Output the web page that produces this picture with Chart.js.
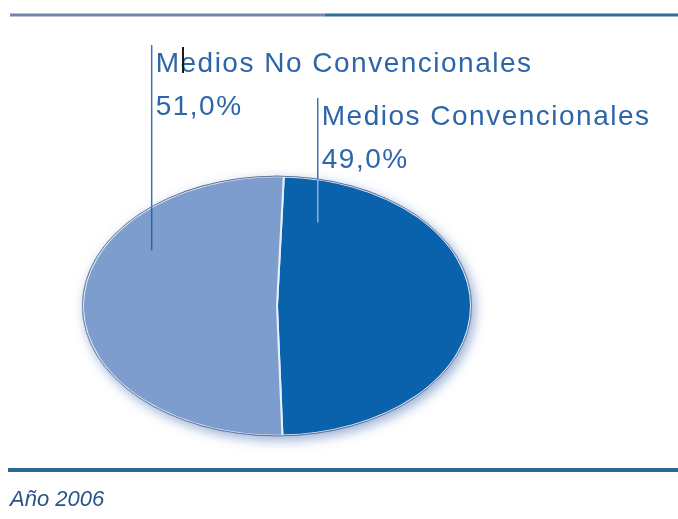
<!DOCTYPE html>
<html>
<head>
<meta charset="utf-8">
<title>Inversión publicitaria 2006</title>
<script src="https://cdn.jsdelivr.net/npm/chart.js@4/dist/chart.umd.min.js"></script>
<style>
  html, body { margin: 0; padding: 0; background: #fff; }
  canvas { display: block; }
</style>
</head>
<body>
<canvas id="mediosChart" width="678" height="519"></canvas>
<script>
const categories = ["Medios Convencionales", "Medios No Convencionales"];
const shares = [49.0, 51.0];
const yearLabel = "Año 2006";

const sliceColors = ["#0a62ad", "#7e9dcf"];
// where each leader line ends inside its slice, as a fraction of the radii
const anchorFractions = [[0.21, -0.646], [-0.646, -0.43]];
const leaderTops = [98, 45];

const squash = 130 / 195;
const textBlue = "#2c66a9";
const fontFamily = '"Liberation Sans", Arial, sans-serif';

const ctx = document.getElementById("mediosChart").getContext("2d");

const formatShare = (v) => v.toFixed(1).replace(".", ",") + "%";

// squashes the pie into an oval and gives it a soft glow
const ovalPie = {
  id: "ovalPie",
  beforeDatasetsDraw(chart) {
    const c = chart.ctx;
    const arc = chart.getDatasetMeta(0).data[0];
    const r = arc.outerRadius;
    c.save();
    c.beginPath();
    c.ellipse(arc.x, arc.y, r + 1, r * squash + 1, 0, 0, Math.PI * 2);
    c.shadowColor = "rgba(70, 110, 180, 0.55)";
    c.shadowBlur = 12;
    c.shadowOffsetX = 3;
    c.shadowOffsetY = 4;
    c.fillStyle = "#5b7fb0";
    c.fill();
    c.restore();

    c.save();
    c.translate(arc.x, arc.y);
    c.scale(1, squash);
    c.translate(-arc.x, -arc.y);
  },
  afterDatasetsDraw(chart) {
    const c = chart.ctx;
    c.restore();
    const arc = chart.getDatasetMeta(0).data[0];
    c.save();
    c.beginPath();
    c.ellipse(arc.x, arc.y, arc.outerRadius + 0.5, arc.outerRadius * squash + 0.5, 0, 0, Math.PI * 2);
    c.strokeStyle = "rgba(60, 80, 120, 0.7)";
    c.lineWidth = 1;
    c.stroke();
    c.restore();
  },
};

// rules, leader lines and labels
const labelsAndRules = {
  id: "labelsAndRules",
  afterDraw(chart) {
    const c = chart.ctx;
    const arc = chart.getDatasetMeta(0).data[0];
    const cx = arc.x;
    const cy = arc.y;
    const rx = arc.outerRadius;
    const ry = rx * squash;

    c.save();
    // top rule
    c.lineWidth = 3;
    c.strokeStyle = "#7586ad";
    c.beginPath();
    c.moveTo(10, 15);
    c.lineTo(325, 15);
    c.stroke();
    c.strokeStyle = "#306f9b";
    c.beginPath();
    c.moveTo(325, 15);
    c.lineTo(678, 15);
    c.stroke();

    // bottom rule
    c.lineWidth = 4;
    c.strokeStyle = "#2c6a93";
    c.beginPath();
    c.moveTo(8, 470);
    c.lineTo(678, 470);
    c.stroke();

    categories.forEach((name, i) => {
      const ax = cx + anchorFractions[i][0] * rx;
      const ay = cy + anchorFractions[i][1] * ry;
      const top = leaderTops[i];
      const dx = (ax - cx) / rx;
      const edgeY = cy - ry * Math.sqrt(1 - dx * dx);

      c.lineWidth = 1.5;
      c.strokeStyle = "#3a73b2";
      c.beginPath();
      c.moveTo(ax, top);
      c.lineTo(ax, edgeY);
      c.stroke();
      c.strokeStyle = i === 0 ? "#8db1de" : "#2f66a6";
      c.beginPath();
      c.moveTo(ax, edgeY);
      c.lineTo(ax, ay);
      c.stroke();

      c.fillStyle = textBlue;
      c.font = "28px " + fontFamily;
      c.letterSpacing = "1.5px";
      c.textBaseline = "alphabetic";
      c.textAlign = "left";
      c.fillText(name, ax + 4, top + 27);
      c.fillText(formatShare(shares[i]), ax + 4, top + 70);
      c.letterSpacing = "0px";
    });

    // caret after the M
    c.strokeStyle = "#1a1a1a";
    c.lineWidth = 2;
    c.beginPath();
    c.moveTo(183, 47);
    c.lineTo(183, 73);
    c.stroke();

    c.fillStyle = "#2b5488";
    c.font = "italic 22px " + fontFamily;
    c.fillText(yearLabel, 10, 506);
    c.restore();
  },
};

new Chart(ctx, {
  type: "pie",
  data: {
    labels: categories,
    datasets: [
      {
        data: shares,
        backgroundColor: sliceColors,
        borderColor: "#e6eef9",
        borderWidth: 2,
      },
    ],
  },
  options: {
    responsive: false,
    animation: false,
    rotation: 2,
    layout: {
      padding: { left: 82, right: 206, top: 111, bottom: 18 },
    },
    plugins: {
      legend: { display: false },
      tooltip: { enabled: false },
    },
  },
  plugins: [ovalPie, labelsAndRules],
});
</script>
</body>
</html>
